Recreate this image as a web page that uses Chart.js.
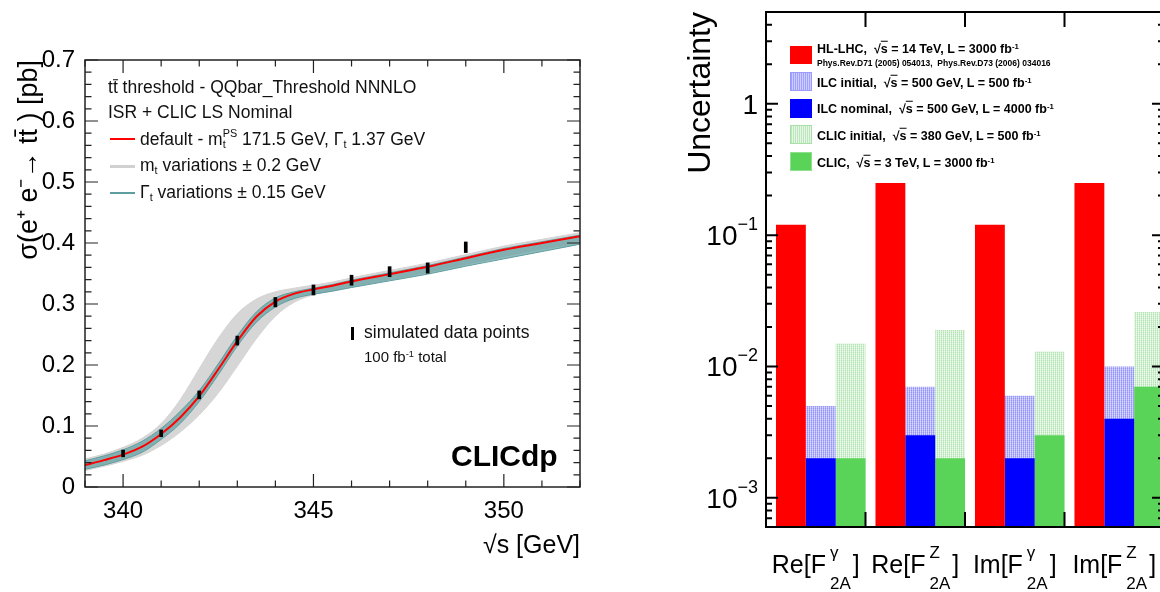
<!DOCTYPE html>
<html>
<head>
<meta charset="utf-8">
<script src="https://cdn.jsdelivr.net/npm/chart.js@4.4.1/dist/chart.umd.min.js"></script>
<style>
  html, body { margin: 0; padding: 0; background: #fff; }
  body { width: 1160px; height: 592px; overflow: hidden; position: relative;
         font-family: 'Liberation Sans', Arial, sans-serif; color: #000; }
  canvas { position: absolute; top: 0; }
  #left { left: 0; }
  #right { left: 680px; }
  .t { position: absolute; white-space: nowrap; transform: translateY(-50%); line-height: 1; }
  .lg { font-size: 17.5px; color: #111; }
  .sb { font-size: 0.62em; vertical-align: -0.28em; }
  .sp { font-size: 0.62em; vertical-align: 0.5em; }
  .ss { display: inline-block; font-size: 0.62em; line-height: 1.05; vertical-align: -0.3em; }
  .ss span { display: block; }
  .ov { text-decoration: overline; }
  .tb { display: inline-block; border-top: 1.5px solid #111; line-height: 0.85; }
  .key { position: absolute; height: 2px; }
  .rl { font-size: 12.5px; font-weight: bold; }
  .box { position: absolute; width: 22px; height: 18px; box-sizing: border-box; }
</style>
</head>
<body>
<canvas id="left" width="600" height="592"></canvas>
<canvas id="right" width="500" height="592"></canvas>

<!-- left panel legend -->
<div class="t lg" style="left:108px;top:88px">t<span class="tb">t</span> threshold - QQbar_Threshold NNNLO</div>
<div class="t lg" style="left:108px;top:113px">ISR + CLIC LS Nominal</div>
<div class="key" style="left:110px;top:138px;width:25px;background:#ff0000"></div>
<div class="t lg" style="left:140px;top:139px">default - m<span class="ss"><span>PS</span><span>t</span></span> 171.5 GeV, &Gamma;<span class="sb">t</span> 1.37 GeV</div>
<div class="key" style="left:110px;top:165px;width:25px;height:3px;background:#d0d0d0"></div>
<div class="t lg" style="left:140px;top:166px">m<span class="sb">t</span> variations &plusmn; 0.2 GeV</div>
<div class="key" style="left:110px;top:192px;width:25px;background:#5f9ea0"></div>
<div class="t lg" style="left:140px;top:193px">&Gamma;<span class="sb">t</span> variations &plusmn; 0.15 GeV</div>
<div class="key" style="left:351px;top:327px;width:3px;height:13px;background:#000"></div>
<div class="t lg" style="left:364px;top:333px">simulated data points</div>
<div class="t" style="left:364px;top:356px;font-size:15px;color:#111">100 fb<span class="sp">-1</span> total</div>
<div class="t" style="left:451px;top:456px;font-size:30px;font-weight:bold">CLICdp</div>

<!-- right panel legend -->
<div class="box" style="left:790px;top:46px;background:#ff0000"></div>
<div class="t rl" style="left:817px;top:49px">HL-LHC,&nbsp; &radic;<span class="ov">s</span> = 14 TeV, L = 3000 fb<span class="sp">-1</span></div>
<div class="t" style="left:817px;top:63px;font-size:8.5px;font-weight:bold">Phys.Rev.D71 (2005) 054013,&nbsp; Phys.Rev.D73 (2006) 034016</div>
<div class="box" style="left:790px;top:72px;height:19px;border:1px solid #9a9aff;background:repeating-linear-gradient(90deg,#a0a0ff 0 1px,#cdcdff 1px 2px)"></div>
<div class="t rl" style="left:817px;top:83px">ILC initial,&nbsp; &radic;<span class="ov">s</span> = 500 GeV, L = 500 fb<span class="sp">-1</span></div>
<div class="box" style="left:790px;top:99px;height:19px;background:#0000ff"></div>
<div class="t rl" style="left:817px;top:109px">ILC nominal,&nbsp; &radic;<span class="ov">s</span> = 500 GeV, L = 4000 fb<span class="sp">-1</span></div>
<div class="box" style="left:790px;top:125px;height:19px;border:1px solid #a8e0a8;background:repeating-linear-gradient(90deg,#bde6bd 0 1px,#e6f6e6 1px 2px)"></div>
<div class="t rl" style="left:817px;top:136px">CLIC initial,&nbsp; &radic;<span class="ov">s</span> = 380 GeV, L = 500 fb<span class="sp">-1</span></div>
<div class="box" style="left:790px;top:152px;height:19px;border:1px solid #8fe08f;background:#59d459"></div>
<div class="t rl" style="left:817px;top:163px">CLIC,&nbsp; &radic;<span class="ov">s</span> = 3 TeV, L = 3000 fb<span class="sp">-1</span></div>

<script>
// left panel: top pair threshold scan
const sqrtS = [339, 339.5, 340, 340.5, 341, 341.5, 342, 342.5, 343, 343.5, 344, 344.5, 345, 345.5, 346, 347, 348, 349, 350, 351, 352];
const xsDefault = [0.036, 0.044, 0.053, 0.066, 0.087, 0.114, 0.149, 0.193, 0.239, 0.279, 0.304, 0.317, 0.324, 0.330, 0.337, 0.349, 0.361, 0.375, 0.389, 0.400, 0.411];
const mtBandLow = [0.027, 0.034, 0.042, 0.052, 0.068, 0.090, 0.118, 0.154, 0.198, 0.243, 0.280, 0.303, 0.315, 0.322, 0.328, 0.340, 0.352, 0.365, 0.378, 0.390, 0.400];
const mtBandHigh = [0.046, 0.054, 0.065, 0.080, 0.104, 0.143, 0.194, 0.244, 0.284, 0.308, 0.320, 0.326, 0.331, 0.336, 0.343, 0.355, 0.367, 0.381, 0.395, 0.406, 0.417];
const widthBandLow = [0.029, 0.036, 0.045, 0.057, 0.078, 0.104, 0.140, 0.184, 0.231, 0.270, 0.295, 0.309, 0.316, 0.321, 0.327, 0.338, 0.349, 0.362, 0.374, 0.386, 0.398];
const widthBandHigh = [0.043, 0.051, 0.061, 0.075, 0.096, 0.124, 0.158, 0.202, 0.248, 0.287, 0.310, 0.320, 0.326, 0.332, 0.339, 0.351, 0.363, 0.377, 0.391, 0.402, 0.413];
const pointsX = [340, 341, 342, 343, 344, 345, 346, 347, 348, 349];
const pointsY = [0.055, 0.088, 0.151, 0.240, 0.303, 0.323, 0.339, 0.353, 0.359, 0.393];
const pointsErr = [0.0055, 0.0055, 0.0065, 0.0074, 0.0077, 0.0082, 0.0082, 0.0082, 0.0084, 0.0087];

// right panel: form factor uncertainties
const ffPrefix = ['Re[F', 'Re[F', 'Im[F', 'Im[F'];
const ffSup = ['\u03b3', 'Z', '\u03b3', 'Z'];
const ffSub = ['2A', '2A', '2A', '2A'];
const hllhc = [0.12, 0.25, 0.12, 0.25];
const ilcInitial = [0.005, 0.007, 0.006, 0.010];
const ilcNominal = [0.002, 0.003, 0.002, 0.004];
const clicInitial = [0.015, 0.019, 0.013, 0.026];
const clic3TeV = [0.002, 0.002, 0.003, 0.007];
const logTicks = [0.001, 0.01, 0.1, 1];
const logTickBase = ['10', '10', '10', '1'];
const logTickExp = ['\u22123', '\u22122', '\u22121', ''];

const FONT = "'Liberation Sans', Arial, sans-serif";
Chart.defaults.font.family = FONT;
Chart.defaults.color = '#000';

function pts(xs, ys) {
    return xs.map(function (x, i) { return { x: x, y: ys[i] }; });
}

// ticks drawn inside the frame on all four sides, ROOT style
const frameTicks = {
    id: 'frameTicks',
    afterDraw(chart, args, o) {
        const { ctx, chartArea: a, scales } = chart;
        ctx.save();
        ctx.strokeStyle = o.color;
        ctx.lineWidth = o.tickWidth;
        ctx.beginPath();
        o.xTicks.forEach(function (t) {
            const px = scales.x.getPixelForValue(t[0]);
            ctx.moveTo(px, a.bottom); ctx.lineTo(px, a.bottom - t[1]);
            ctx.moveTo(px, a.top); ctx.lineTo(px, a.top + t[1]);
        });
        o.yTicks.forEach(function (t) {
            const py = scales.y.getPixelForValue(t[0]);
            ctx.moveTo(a.left, py); ctx.lineTo(a.left + t[1], py);
            ctx.moveTo(a.right, py); ctx.lineTo(a.right - t[1], py);
        });
        ctx.stroke();
        ctx.lineWidth = o.frameWidth;
        ctx.strokeRect(a.left, a.top, a.right - a.left, a.bottom - a.top);
        ctx.restore();
    }
};

function noPad(s) {
    s.paddingTop = 0; s.paddingBottom = 0; s.paddingLeft = 0; s.paddingRight = 0;
}

// left chart ticks
const leftX = [], leftY = [];
for (let v = 339; v <= 352; v++) leftX.push([v, v % 5 === 0 ? 13 : 6.5]);
for (let i = 0; i <= 35; i++) leftY.push([i * 0.02, i % 5 === 0 ? 13 : 6.5]);

new Chart(document.getElementById('left'), {
    type: 'line',
    data: {
        datasets: [
            { data: pts(sqrtS, mtBandLow), borderColor: '#d4d4d4', borderWidth: 1, fill: false, order: 6 },
            { data: pts(sqrtS, mtBandHigh), borderColor: '#d4d4d4', borderWidth: 1, fill: '-1', backgroundColor: '#d6d6d6', order: 5 },
            { data: pts(sqrtS, widthBandLow), borderColor: '#5f9ea0', borderWidth: 1, fill: false, order: 4 },
            { data: pts(sqrtS, widthBandHigh), borderColor: '#5f9ea0', borderWidth: 1, fill: '-1', backgroundColor: 'rgba(95,158,160,0.7)', order: 3 },
            { data: pts(sqrtS, xsDefault), borderColor: '#ff0000', borderWidth: 2, fill: false, order: 1 },
            {
                type: 'bar',
                data: pointsX.map(function (x, i) { return { x: x, y: [pointsY[i] - pointsErr[i], pointsY[i] + pointsErr[i]] }; }),
                backgroundColor: '#000', barThickness: 3, order: 0
            }
        ]
    },
    options: {
        responsive: false,
        animation: false,
        layout: { padding: { top: 60, right: 20, left: 0, bottom: 0 } },
        elements: { point: { radius: 0 }, line: { cubicInterpolationMode: 'monotone' } },
        plugins: {
            legend: { display: false },
            tooltip: { enabled: false },
            frameTicks: { color: '#222', tickWidth: 1.2, frameWidth: 1.5, xTicks: leftX, yTicks: leftY }
        },
        scales: {
            x: {
                type: 'linear', min: 339, max: 352, offset: false,
                grid: { display: false, drawTicks: false }, border: { display: false },
                ticks: { stepSize: 5, includeBounds: false, font: { size: 24 }, padding: 10, maxRotation: 0 },
                title: { display: true, text: '\u221as [GeV]', align: 'end', font: { size: 25 }, padding: { top: 0, bottom: 31 } },
                afterFit(s) { s.height = 105; }
            },
            y: {
                min: 0, max: 0.7,
                grid: { display: false, drawTicks: false }, border: { display: false },
                ticks: { stepSize: 0.1, font: { size: 24 }, padding: 10 },
                title: { display: true, text: '\u03c3(e\u207a e\u207b\u2192 tt\u0304 ) [pb]', align: 'end', font: { size: 27 }, padding: { top: 13, bottom: 0 } },
                afterFit(s) { s.width = 85; }
            }
        }
    },
    plugins: [frameTicks]
});

// right chart
function hatch(c1, c2, c3, c4) {
    const c = document.createElement('canvas');
    c.width = 2; c.height = 2;
    const g = c.getContext('2d');
    g.fillStyle = c1; g.fillRect(0, 0, 1, 1);
    g.fillStyle = c2; g.fillRect(1, 0, 1, 1);
    g.fillStyle = c3; g.fillRect(0, 1, 1, 1);
    g.fillStyle = c4; g.fillRect(1, 1, 1, 1);
    return g.createPattern(c, 'repeat');
}

const rightX = [-0.5, 0.5, 1.5, 2.5, 3.5].map(function (v) { return [v, 15]; });
const rightY = [];
[0.0001, 0.001, 0.01, 0.1, 1].forEach(function (d) {
    for (let k = 1; k <= 9; k++) {
        const v = d * k;
        if (v >= 0.0006 && v <= 5) rightY.push([v, k === 1 ? 12 : 6]);
    }
});

// ROOT puts the bars at 0.1..1.0 of each bin, nudge them right
const barShift = {
    id: 'barShift',
    beforeDatasetsDraw(chart) { chart.ctx.save(); chart.ctx.translate(5, 0); },
    afterDatasetsDraw(chart) { chart.ctx.restore(); }
};

// 10^-n labels with a real superscript
const logLabels = {
    id: 'logLabels',
    afterDraw(chart) {
        const { ctx, scales, chartArea } = chart;
        const xr = chartArea.left - 8;
        ctx.save();
        ctx.fillStyle = '#000';
        ctx.textAlign = 'right';
        ctx.textBaseline = 'middle';
        logTicks.forEach(function (v, i) {
            const py = scales.y.getPixelForValue(v);
            ctx.font = '18px ' + FONT;
            const we = ctx.measureText(logTickExp[i]).width;
            ctx.fillText(logTickExp[i], xr, py - 10);
            ctx.font = '28px ' + FONT;
            ctx.fillText(logTickBase[i], xr - we, py + 2);
        });
        ctx.restore();
    }
};

const catLabels = {
    id: 'catLabels',
    afterDraw(chart) {
        const { ctx, scales } = chart;
        ctx.save();
        ctx.fillStyle = '#000';
        ctx.textBaseline = 'alphabetic';
        ctx.textAlign = 'left';
        ffPrefix.forEach(function (p, i) {
            ctx.font = '25px ' + FONT;
            const wp = ctx.measureText(p).width;
            const wb = ctx.measureText(']').width;
            ctx.font = '17px ' + FONT;
            const ws = Math.max(ctx.measureText(ffSup[i]).width, ctx.measureText(ffSub[i]).width);
            const total = wp + 4 + ws + 2 + wb;
            const cx = scales.x.getPixelForValue(i);
            const x0 = cx - total / 2;
            const base = 573;
            ctx.font = '25px ' + FONT;
            ctx.fillText(p, x0, base);
            ctx.fillText(']', x0 + wp + 4 + ws + 2, base);
            ctx.font = '17px ' + FONT;
            ctx.fillText(ffSup[i], x0 + wp + 4, base - 15);
            ctx.fillText(ffSub[i], x0 + wp + 4, base + 16);
        });
        ctx.restore();
    }
};

const rctx = document.getElementById('right').getContext('2d');
new Chart(rctx, {
    type: 'bar',
    data: {
        labels: ffPrefix.map(function (p, i) { return p + ffSup[i] + ffSub[i] + ']'; }),
        datasets: [
            { label: 'HL-LHC', data: hllhc, backgroundColor: '#ff0000', stack: 'a', order: 0 },
            { label: 'ILC initial', data: ilcInitial, backgroundColor: hatch('#9494ff', '#c6c6ff', '#a8a8ff', '#d8d8ff'), stack: 'b', order: 2 },
            { label: 'ILC nominal', data: ilcNominal, backgroundColor: '#0000ff', stack: 'b', order: 1 },
            { label: 'CLIC initial', data: clicInitial, backgroundColor: hatch('#b2e3b2', '#e0f4e0', '#cbedcb', '#eef9ee'), stack: 'c', order: 2 },
            { label: 'CLIC', data: clic3TeV, backgroundColor: '#59d459', stack: 'c', order: 1 }
        ]
    },
    options: {
        responsive: false,
        animation: false,
        layout: { padding: { top: 12, right: 16, left: 0, bottom: 0 } },
        datasets: { bar: { barPercentage: 1, categoryPercentage: 0.9, borderWidth: 0 } },
        plugins: {
            legend: { display: false },
            tooltip: { enabled: false },
            frameTicks: { color: '#000', tickWidth: 2, frameWidth: 2, xTicks: rightX, yTicks: rightY }
        },
        scales: {
            x: {
                type: 'category', stacked: true, offset: true,
                grid: { display: false, drawTicks: false }, border: { display: false },
                ticks: { display: false },
                afterFit(s) { s.height = 65; noPad(s); }
            },
            y: {
                type: 'logarithmic', stacked: false, min: 0.0006, max: 5,
                grid: { display: false, drawTicks: false }, border: { display: false },
                afterBuildTicks(s) { s.ticks = logTicks.map(function (v) { return { value: v }; }); },
                ticks: { display: false },
                title: { display: true, text: 'Uncertainty', align: 'end', font: { size: 32 }, padding: { top: 2, bottom: 0 } },
                afterFit(s) { s.width = 86; noPad(s); }
            }
        }
    },
    plugins: [frameTicks, barShift, logLabels, catLabels]
});
</script>
</body>
</html>
